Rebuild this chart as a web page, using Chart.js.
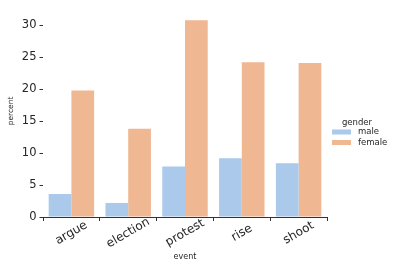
<!DOCTYPE html>
<html><head><meta charset="utf-8">
<script src="https://cdn.jsdelivr.net/npm/chart.js@4/dist/chart.umd.min.js"></script>
<style>html,body{margin:0;padding:0;background:#fff;}#wrap{width:399px;height:266px;}</style>
</head><body><div id="wrap"><canvas id="c" width="399" height="266"></canvas></div>
<script>
const categories = ['argue', 'election', 'protest', 'rise', 'shoot'];
const maleValues = [3.6, 2.2, 7.9, 9.2, 8.4];
const femaleValues = [19.8, 13.8, 30.8, 24.2, 24.1];
const yTicks = [0, 5, 10, 15, 20, 25, 30];
const seriesNames = ['male', 'female'];
const legendTitle = 'gender';
const xTitle = 'event';
const yTitle = 'percent';

const colors = ['#abc9ea', '#efb792'];
const FONT = "'DejaVu Sans', sans-serif";

const overlay = {
  id: 'overlay',
  afterDraw(chart) {
    const ctx = chart.ctx;
    const xs = chart.scales.x;
    ctx.save();
    ctx.fillStyle = '#262626';
    ctx.font = '12px ' + FONT;
    ctx.textAlign = 'center';
    ctx.textBaseline = 'middle';
    categories.forEach((c, i) => {
      const x = xs.getPixelForValue(i);
      ctx.save();
      ctx.translate(x, 233);
      ctx.rotate(-Math.PI / 6);
      ctx.fillText(c, 0, 0);
      ctx.restore();
    });
    ctx.font = '8px ' + FONT;
    ctx.fillText(xTitle, (chart.chartArea.left + chart.chartArea.right) / 2, 257);
    ctx.save();
    ctx.translate(11, 111);
    ctx.rotate(-Math.PI / 2);
    ctx.font = '7.5px ' + FONT;
    ctx.fillText(yTitle, 0, 0);
    ctx.restore();
    ctx.font = '8.5px ' + FONT;
    ctx.textAlign = 'center';
    ctx.fillText(legendTitle, 357, 123);
    ctx.textAlign = 'left';
    seriesNames.forEach((n, i) => {
      const y = 132 + i * 10.5;
      ctx.fillStyle = colors[i];
      ctx.fillRect(332, y - 2.5, 19, 5);
      ctx.fillStyle = '#262626';
      ctx.fillText(n, 358, y);
    });
    ctx.restore();
  }
};

new Chart(document.getElementById('c'), {
  type: 'bar',
  data: {
    labels: categories,
    datasets: [
      { label: seriesNames[0], data: maleValues, backgroundColor: colors[0], borderWidth: 0, categoryPercentage: 0.8, barPercentage: 1.0 },
      { label: seriesNames[1], data: femaleValues, backgroundColor: colors[1], borderWidth: 0, categoryPercentage: 0.8, barPercentage: 1.0 }
    ]
  },
  options: {
    responsive: false,
    animation: false,
    devicePixelRatio: 1,
    layout: { padding: { top: 4, right: 72, left: 0, bottom: 0 } },
    plugins: { legend: { display: false }, tooltip: { enabled: false } },
    scales: {
      x: {
        offset: true,
        grid: { display: true, drawOnChartArea: false, drawTicks: true, tickLength: 4, tickColor: '#333', lineWidth: 1 },
        border: { display: true, color: '#333', width: 1 },
        ticks: { display: false },
        afterFit(s) { s.height = 49; }
      },
      y: {
        min: 0, max: 32.4,
        afterBuildTicks(s) { s.ticks = yTicks.map(v => ({ value: v })); },
        grid: { display: true, drawOnChartArea: false, drawTicks: true, tickLength: 3.5, tickColor: '#333', lineWidth: 1 },
        border: { display: false },
        ticks: { color: '#262626', font: { family: FONT, size: 11.5 }, padding: 3 },
        afterFit(s) { s.width = 43; }
      }
    }
  },
  plugins: [overlay]
});
</script></body></html>
